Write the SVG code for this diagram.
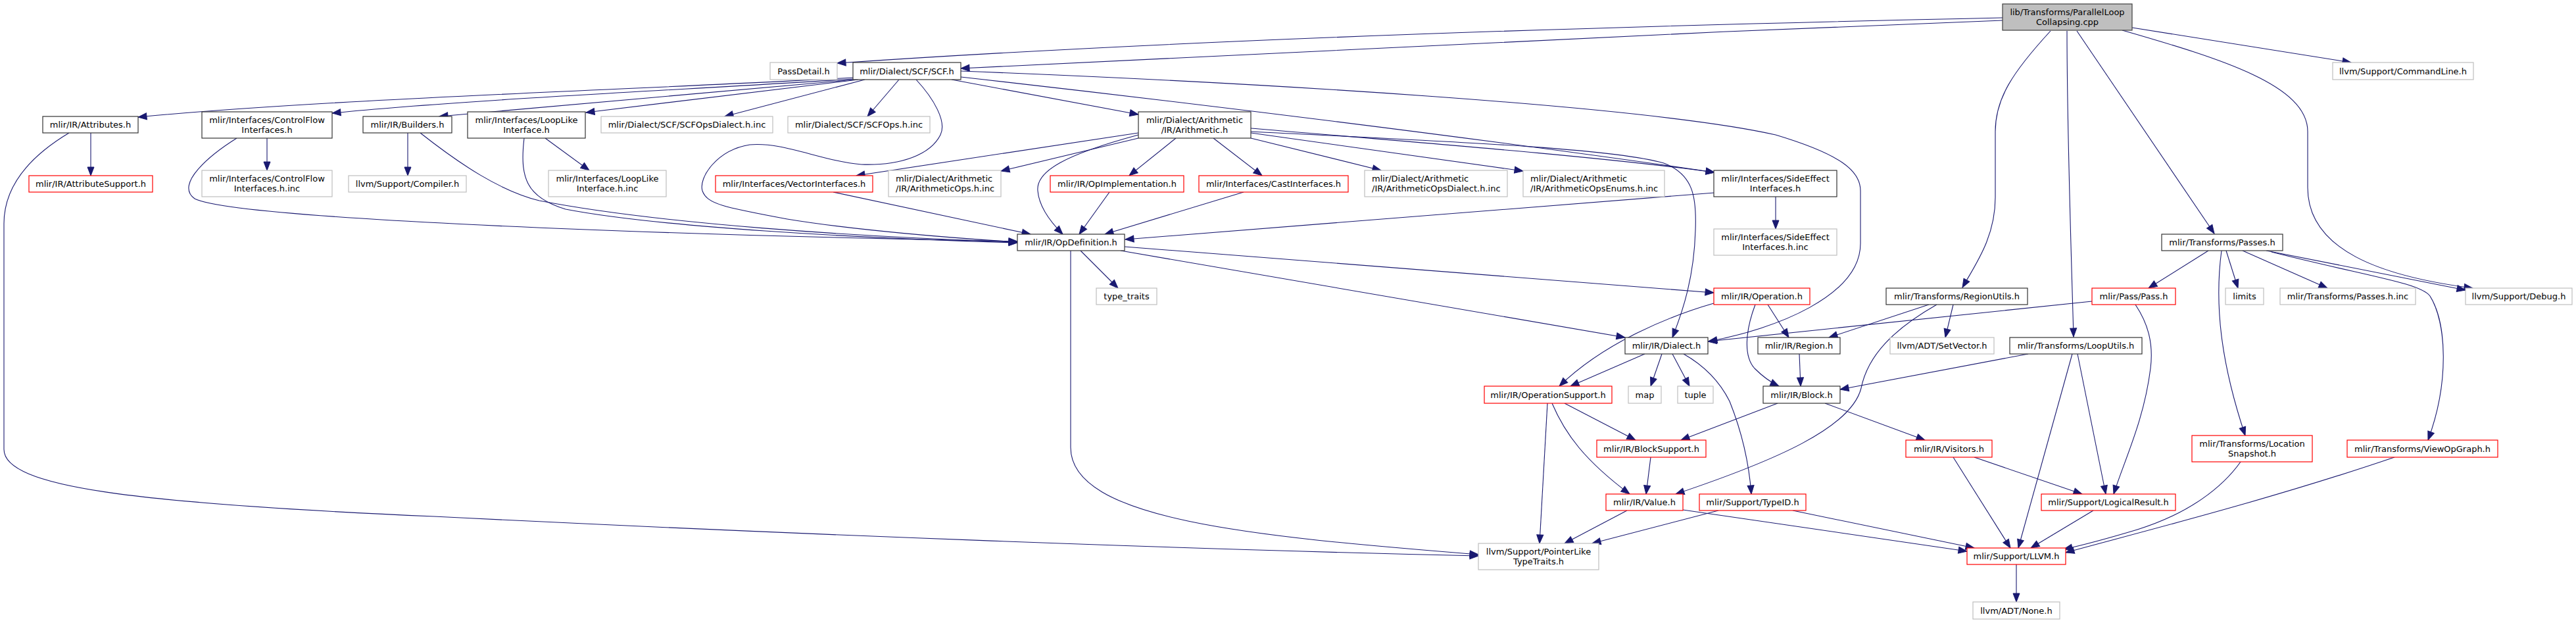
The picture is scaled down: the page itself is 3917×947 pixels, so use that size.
<svg xmlns="http://www.w3.org/2000/svg" width="3917" height="947" viewBox="0 0 3917 947">
<style>
.k{fill:#fff;stroke:#333;stroke-width:1.2}
.g{fill:#fff;stroke:#bfbfbf;stroke-width:1.2}
.r{fill:#fff;stroke:#ff0000;stroke-width:1.2}
.root{fill:#bfbfbf;stroke:#404040;stroke-width:1.2}
text{font-family:"DejaVu Sans","Liberation Sans",sans-serif;font-size:13px;fill:#000;text-anchor:middle}
text.l{text-anchor:start}
#edges path{fill:none;stroke:#191970;stroke-width:1.1;marker-end:url(#a)}
</style>
<defs>
<marker id="a" markerUnits="userSpaceOnUse" markerWidth="15" markerHeight="12" refX="13" refY="5" orient="auto" viewBox="0 0 15 12" overflow="visible">
<path d="M0,0 L13,5 L0,10 z" fill="#191970" stroke="#191970" stroke-width="1"/>
</marker>
</defs>
<rect width="3917" height="947" fill="#fff"/>
<g id="edges">
<path d="M3045,27 C2430,40 1800,60 1273,96"/>
<path d="M3045,31 C2500,52 1900,80 1461,104"/>
<path d="M3118,47 C3060,110 3034,150 3034,200 L3034,300 C3034,360 3005,400 2984,437"/>
<path d="M3143,47 C3143,200 3150,400 3153,512"/>
<path d="M3158,47 L3367,355"/>
<path d="M3242,42 L3575,95"/>
<path d="M3227,46 C3380,90 3509,130 3509,200 L3509,285 C3509,380 3620,420 3760,438"/>
<path d="M1297,118 C1000,135 500,150 210,178"/>
<path d="M1297,120 C1050,136 700,152 505,172"/>
<path d="M1300,121 L668,177"/>
<path d="M1305,121 L891,171"/>
<path d="M1315,121 L1102,177"/>
<path d="M1367,121 L1319,177"/>
<path d="M1393,121 C1420,150 1440,185 1430,205 C1415,235 1370,252 1310,250 C1250,245 1190,215 1140,220 C1090,228 1062,270 1068,290 C1075,310 1100,315 1197,333 C1300,350 1450,362 1547,368"/>
<path d="M1461,108 C1900,125 2500,160 2700,205 C2800,235 2829,260 2829,290 L2829,370 C2829,450 2700,500 2598,519"/>
<path d="M1461,117 C1800,155 2250,210 2607,262"/>
<path d="M1447,121 L1731,174"/>
<path d="M1731,202 L1302,267"/>
<path d="M1731,210 L1522,260"/>
<path d="M1731,205 C1620,235 1575,260 1578,290 C1580,315 1600,340 1616,356"/>
<path d="M1788,210 L1717,267"/>
<path d="M1845,210 L1919,267"/>
<path d="M1902,210 L2100,259"/>
<path d="M1902,202 L2316,260"/>
<path d="M1902,195 C2200,220 2450,240 2607,262"/>
<path d="M1902,200 C2200,215 2450,225 2530,248 C2575,265 2580,300 2578,350 C2576,420 2560,470 2543,513"/>
<path d="M138,202 L138,267"/>
<path d="M105,202 C50,235 6,280 6,340 L6,683 C6,740 200,765 660,785 C1200,812 1800,835 2248,845"/>
<path d="M406,210 L406,259"/>
<path d="M360,210 C320,235 265,280 296,302 C350,330 900,355 1547,367"/>
<path d="M620,202 L620,267"/>
<path d="M639,202 C700,250 760,290 820,305 C1000,340 1300,360 1547,368"/>
<path d="M829,210 L896,259"/>
<path d="M797,210 C790,270 800,300 860,318 C1000,345 1300,362 1547,369"/>
<path d="M1267,292 L1567,356"/>
<path d="M1687,292 L1641,356"/>
<path d="M1891,292 L1680,356"/>
<path d="M2607,293 L1711,364"/>
<path d="M2700,299 L2700,348"/>
<path d="M1710,375 L2606,445"/>
<path d="M1704,381 L2471,513"/>
<path d="M1643,381 L1700,438"/>
<path d="M1628,381 L1628,680 C1628,790 1900,815 2248,843"/>
<path d="M3358,381 L3267,438"/>
<path d="M3385,381 L3403,438"/>
<path d="M3410,381 L3539,438"/>
<path d="M3446,381 L3749,441"/>
<path d="M3378,381 C3366,470 3380,560 3414,662"/>
<path d="M3454,383 C3600,420 3680,430 3695,450 C3720,490 3725,580 3692,669"/>
<path d="M3181,458 L2597,519"/>
<path d="M3247,463 C3265,490 3275,520 3270,560 C3260,640 3230,700 3214,751"/>
<path d="M2933,463 L2781,513"/>
<path d="M2945,463 C2880,500 2840,540 2830,590 C2815,650 2700,700 2548,751"/>
<path d="M2970,463 L2958,513"/>
<path d="M2688,463 L2720,513"/>
<path d="M2669,463 C2655,500 2650,540 2668,560 C2680,572 2690,580 2705,587"/>
<path d="M2606,461 C2540,480 2440,520 2371,587"/>
<path d="M2501,538 L2388,587"/>
<path d="M2527,538 L2510,587"/>
<path d="M2543,538 L2569,587"/>
<path d="M2560,538 C2590,555 2615,580 2630,610 C2650,660 2660,710 2663,751"/>
<path d="M2379,613 L2487,669"/>
<path d="M2360,613 C2380,660 2410,700 2478,751"/>
<path d="M2353,613 L2341,826"/>
<path d="M2510,695 L2503,751"/>
<path d="M2474,776 L2379,826"/>
<path d="M2559,775 L2991,838"/>
<path d="M2613,776 L2421,826"/>
<path d="M2726,776 L3002,833"/>
<path d="M2703,613 L2556,669"/>
<path d="M2775,613 L2927,669"/>
<path d="M2736,538 L2738,587"/>
<path d="M3084,538 L2798,592"/>
<path d="M3151,538 L3069,833"/>
<path d="M3159,538 L3202,751"/>
<path d="M2970,695 L3057,833"/>
<path d="M3002,695 L3166,751"/>
<path d="M3183,776 L3088,833"/>
<path d="M3407,702 C3380,740 3330,780 3250,805 C3200,820 3170,828 3138,835"/>
<path d="M3641,695 C3450,760 3250,810 3141,840"/>
<path d="M3066,858 L3066,915"/>
</g>
<g id="root"><rect class="root" x="3045" y="6" width="197" height="40"/><text x="3143.5" y="22.7">lib/Transforms/ParallelLoop</text><text x="3143.5" y="37.7">Collapsing.cpp</text></g>
<g id="passdetail"><rect class="g" x="1171" y="95" width="102" height="26"/><text x="1222" y="112.7">PassDetail.h</text></g>
<g id="scf"><rect class="k" x="1297" y="95" width="164" height="26"/><text x="1379" y="112.7">mlir/Dialect/SCF/SCF.h</text></g>
<g id="attributes"><rect class="k" x="65" y="177" width="145" height="25"/><text x="137.5" y="194.2">mlir/IR/Attributes.h</text></g>
<g id="controlflow"><rect class="k" x="307" y="170" width="198" height="40"/><text x="406" y="186.7">mlir/Interfaces/ControlFlow</text><text x="406" y="201.7">Interfaces.h</text></g>
<g id="builders"><rect class="k" x="552" y="177" width="135" height="25"/><text x="619.5" y="194.2">mlir/IR/Builders.h</text></g>
<g id="looplike"><rect class="k" x="711" y="170" width="179" height="40"/><text x="800.5" y="186.7">mlir/Interfaces/LoopLike</text><text x="800.5" y="201.7">Interface.h</text></g>
<g id="scfdialect"><rect class="g" x="914" y="177" width="261" height="25"/><text x="1044.5" y="194.2">mlir/Dialect/SCF/SCFOpsDialect.h.inc</text></g>
<g id="scfops"><rect class="g" x="1198" y="177" width="216" height="25"/><text x="1306" y="194.2">mlir/Dialect/SCF/SCFOps.h.inc</text></g>
<g id="arith"><rect class="k" x="1731" y="170" width="171" height="40"/><text x="1816.5" y="186.7">mlir/Dialect/Arithmetic</text><text x="1816.5" y="201.7">/IR/Arithmetic.h</text></g>
<g id="attrsupport"><rect class="r" x="44" y="267" width="188" height="25"/><text x="138" y="284.2">mlir/IR/AttributeSupport.h</text></g>
<g id="cfinc"><rect class="g" x="307" y="259" width="198" height="40"/><text x="406" y="275.7">mlir/Interfaces/ControlFlow</text><text x="406" y="290.7">Interfaces.h.inc</text></g>
<g id="compiler"><rect class="g" x="530" y="267" width="179" height="25"/><text x="619.5" y="284.2">llvm/Support/Compiler.h</text></g>
<g id="looplikeinc"><rect class="g" x="834" y="259" width="179" height="40"/><text x="923.5" y="275.7">mlir/Interfaces/LoopLike</text><text x="923.5" y="290.7">Interface.h.inc</text></g>
<g id="vector"><rect class="r" x="1088" y="267" width="239" height="25"/><text x="1207.5" y="284.2">mlir/Interfaces/VectorInterfaces.h</text></g>
<g id="arithopsinc"><rect class="g" x="1351" y="259" width="171" height="40"/><text class="l" x="1362" y="275.7">mlir/Dialect/Arithmetic</text><text class="l" x="1362" y="290.7">/IR/ArithmeticOps.h.inc</text></g>
<g id="opimpl"><rect class="r" x="1597" y="267" width="203" height="25"/><text x="1698.5" y="284.2">mlir/IR/OpImplementation.h</text></g>
<g id="cast"><rect class="r" x="1823" y="267" width="227" height="25"/><text x="1936.5" y="284.2">mlir/Interfaces/CastInterfaces.h</text></g>
<g id="arithdialectinc"><rect class="g" x="2075" y="259" width="217" height="40"/><text class="l" x="2086" y="275.7">mlir/Dialect/Arithmetic</text><text class="l" x="2086" y="290.7">/IR/ArithmeticOpsDialect.h.inc</text></g>
<g id="arithenumsinc"><rect class="g" x="2316" y="259" width="215" height="40"/><text class="l" x="2327" y="275.7">mlir/Dialect/Arithmetic</text><text class="l" x="2327" y="290.7">/IR/ArithmeticOpsEnums.h.inc</text></g>
<g id="sideeffect"><rect class="k" x="2606" y="259" width="187" height="40"/><text x="2699.5" y="275.7">mlir/Interfaces/SideEffect</text><text x="2699.5" y="290.7">Interfaces.h</text></g>
<g id="commandline"><rect class="g" x="3547" y="95" width="214" height="26"/><text x="3654" y="112.7">llvm/Support/CommandLine.h</text></g>
<g id="opdef"><rect class="k" x="1547" y="356" width="163" height="25"/><text x="1628.5" y="373.2">mlir/IR/OpDefinition.h</text></g>
<g id="sideeffectinc"><rect class="g" x="2606" y="348" width="187" height="40"/><text x="2699.5" y="364.7">mlir/Interfaces/SideEffect</text><text x="2699.5" y="379.7">Interfaces.h.inc</text></g>
<g id="passes"><rect class="k" x="3287" y="356" width="184" height="25"/><text x="3379" y="373.2">mlir/Transforms/Passes.h</text></g>
<g id="typetraits"><rect class="g" x="1667" y="438" width="92" height="25"/><text x="1713" y="455.2">type_traits</text></g>
<g id="operation"><rect class="r" x="2606" y="438" width="146" height="25"/><text x="2679" y="455.2">mlir/IR/Operation.h</text></g>
<g id="regionutils"><rect class="k" x="2868" y="438" width="215" height="25"/><text x="2975.5" y="455.2">mlir/Transforms/RegionUtils.h</text></g>
<g id="pass"><rect class="r" x="3181" y="438" width="127" height="25"/><text x="3244.5" y="455.2">mlir/Pass/Pass.h</text></g>
<g id="limits"><rect class="g" x="3384" y="438" width="58" height="25"/><text x="3413" y="455.2">limits</text></g>
<g id="passesinc"><rect class="g" x="3467" y="438" width="206" height="25"/><text x="3570" y="455.2">mlir/Transforms/Passes.h.inc</text></g>
<g id="debug"><rect class="g" x="3749" y="438" width="162" height="25"/><text x="3830" y="455.2">llvm/Support/Debug.h</text></g>
<g id="dialect"><rect class="k" x="2471" y="513" width="126" height="25"/><text x="2534" y="530.2">mlir/IR/Dialect.h</text></g>
<g id="region"><rect class="k" x="2673" y="513" width="125" height="25"/><text x="2735.5" y="530.2">mlir/IR/Region.h</text></g>
<g id="setvector"><rect class="g" x="2874" y="513" width="158" height="25"/><text x="2953" y="530.2">llvm/ADT/SetVector.h</text></g>
<g id="looputils"><rect class="k" x="3056" y="513" width="201" height="25"/><text x="3156.5" y="530.2">mlir/Transforms/LoopUtils.h</text></g>
<g id="opsupport"><rect class="r" x="2257" y="587" width="194" height="26"/><text x="2354" y="604.7">mlir/IR/OperationSupport.h</text></g>
<g id="map"><rect class="g" x="2476" y="587" width="50" height="26"/><text x="2501" y="604.7">map</text></g>
<g id="tuple"><rect class="g" x="2551" y="587" width="54" height="26"/><text x="2578" y="604.7">tuple</text></g>
<g id="block"><rect class="k" x="2681" y="587" width="117" height="26"/><text x="2739.5" y="604.7">mlir/IR/Block.h</text></g>
<g id="blocksupport"><rect class="r" x="2428" y="669" width="166" height="26"/><text x="2511" y="686.7">mlir/IR/BlockSupport.h</text></g>
<g id="visitors"><rect class="r" x="2898" y="669" width="131" height="26"/><text x="2963.5" y="686.7">mlir/IR/Visitors.h</text></g>
<g id="locsnap"><rect class="r" x="3333" y="662" width="183" height="40"/><text x="3424.5" y="678.7">mlir/Transforms/Location</text><text x="3424.5" y="693.7">Snapshot.h</text></g>
<g id="viewop"><rect class="r" x="3569" y="669" width="229" height="26"/><text x="3683.5" y="686.7">mlir/Transforms/ViewOpGraph.h</text></g>
<g id="value"><rect class="r" x="2442" y="751" width="117" height="25"/><text x="2500.5" y="768.2">mlir/IR/Value.h</text></g>
<g id="typeid"><rect class="r" x="2584" y="751" width="162" height="25"/><text x="2665" y="768.2">mlir/Support/TypeID.h</text></g>
<g id="logical"><rect class="r" x="3104" y="751" width="204" height="25"/><text x="3206" y="768.2">mlir/Support/LogicalResult.h</text></g>
<g id="ptrlike"><rect class="g" x="2248" y="826" width="183" height="40"/><text x="2339.5" y="842.7">llvm/Support/PointerLike</text><text x="2339.5" y="857.7">TypeTraits.h</text></g>
<g id="llvm"><rect class="r" x="2991" y="833" width="150" height="25"/><text x="3066" y="850.2">mlir/Support/LLVM.h</text></g>
<g id="none"><rect class="g" x="3000" y="915" width="132" height="26"/><text x="3066" y="932.7">llvm/ADT/None.h</text></g>
</svg>
